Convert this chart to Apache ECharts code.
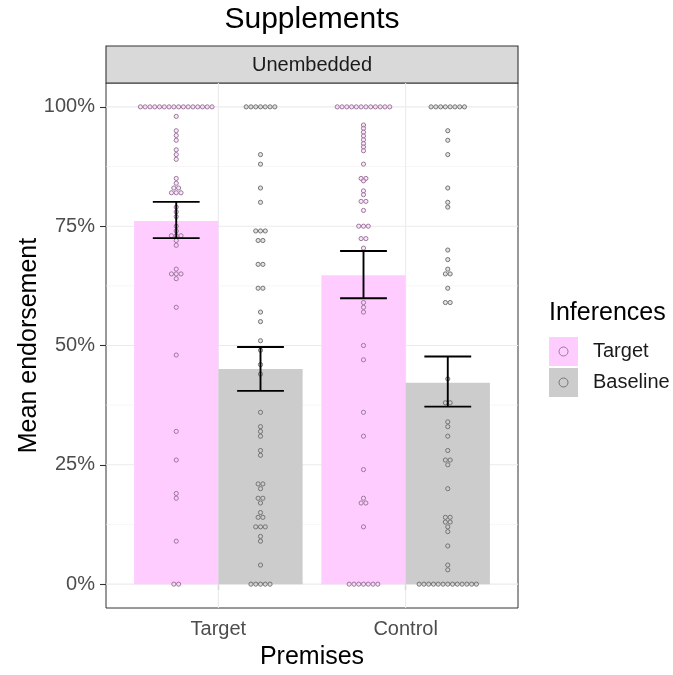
<!DOCTYPE html>
<html><head><meta charset="utf-8">
<script src="https://cdn.jsdelivr.net/npm/echarts@6/dist/echarts.min.js"></script>
<style>html,body{margin:0;padding:0;background:#fff}#c{width:673px;height:675px}</style>
</head><body><div id="c"></div>
<script>
// ---------- data (percent) ----------
const premises = ['Target', 'Control'];
const inferences = ['Target', 'Baseline'];
const yTicks = [0, 25, 50, 75, 100];
const yMinor = [12.5, 37.5, 62.5, 87.5];
const meanTarget = [76.1, 64.7];
const meanBaseline = [45.1, 42.2];
const ciLowTarget = [72.5, 59.9];
const ciHighTarget = [80.1, 69.8];
const ciLowBaseline = [40.5, 37.2];
const ciHighBaseline = [49.7, 47.7];

// individual participant endorsements
const dotsTargetTarget = [100,100,100,100,100,100,100,100,100,100,100,100,100,100,100,100,
  98, 95, 94, 93, 91, 90, 89, 85, 84, 83, 83, 82, 82, 82, 79, 78, 77, 75, 74, 73, 73, 73, 72, 71,
  66, 65, 65, 65, 64, 58, 48, 32, 26, 19, 18, 9, 0, 0];
const dotsTargetBaseline = [100,100,100,100,100,100,100,
  90, 88, 83, 80, 74, 74, 74, 72, 72, 67, 67, 62, 62, 57, 55, 51, 49, 46, 44, 36, 33, 32, 31,
  28, 27, 21, 21, 20, 18, 18, 17, 15, 14, 14, 12, 12, 12, 10, 9, 4, 0, 0, 0, 0, 0];
const dotsControlTarget = [100,100,100,100,100,100,100,100,100,100,100,100,
  96.2, 95.5, 94.7, 93.9, 93.1, 92.3, 91.6, 90.8, 88, 85, 85, 84.5, 82.4, 81.6, 80.2, 80.2, 78.3,
  75, 75, 75, 72.4, 72.4, 70.4, 59, 58, 57, 50, 47, 36, 31, 24, 18, 17, 17, 12, 0, 0, 0, 0, 0, 0, 0];
const dotsControlBaseline = [100,100,100,100,100,100,100,100,
  95, 93, 90, 83, 80, 79, 70, 68, 66, 65, 65, 62, 59, 59, 43, 38, 38, 34, 33, 31, 28, 26, 26, 25,
  20, 14, 14, 13, 13, 12, 11, 8, 4, 3, 0,0,0,0,0,0,0,0,0,0,0,0,0];

// ---------- style ----------
const PINK = '#ffccff', GREY = '#cccccc';
const PINK_DOT = '#9a7a9a', GREY_DOT = '#747474';
const DODGE = 0.225, BAR_W = 0.45, ERR_W = 0.25, BINW = 1;
const FONT = 'Liberation Sans, Arial, Helvetica, sans-serif';

function stackDots(values, x) {
  const counts = new Map();
  values.forEach(v => counts.set(v, (counts.get(v) || 0) + 1));
  const out = [];
  counts.forEach((n, v) => { for (let k = 0; k < n; k++) out.push([x, v, k, n]); });
  return out;
}

function barSeries(name, means, off, color) {
  return {
    name, type: 'custom', z: 2, clip: true,
    itemStyle: { color },
    data: means.map((m, i) => [i + 1 + off, m]),
    encode: { x: 0, y: 1 },
    renderItem(params, api) {
      const top = api.coord([api.value(0), api.value(1)]);
      const base = api.coord([api.value(0), 0]);
      const w = api.size([BAR_W, 0])[0];
      return { type: 'rect', shape: { x: top[0] - w / 2, y: top[1], width: w, height: base[1] - top[1] },
        style: { fill: color } };
    }
  };
}
function dotSeries(name, data, fill, stroke) {
  return {
    name, type: 'custom', z: 3, data, encode: { x: 0, y: 1 },
    renderItem(params, api) {
      const c = api.coord([api.value(0), api.value(1)]);
      const d = api.size([0, BINW])[1];
      const k = api.value(2), n = api.value(3);
      const cx = c[0] + (k - (n - 1) / 2) * d;
      return { type: 'circle', shape: { cx, cy: c[1], r: d / 2 - 0.3 },
        style: { fill, stroke, lineWidth: 1 } };
    }
  };
}
function errSeries(name, lo, hi, off) {
  return {
    name, type: 'custom', z: 4,
    data: lo.map((l, i) => [i + 1 + off, l, hi[i]]),
    encode: { x: 0, y: [1, 2] },
    renderItem(params, api) {
      const x = api.value(0);
      const pl = api.coord([x, api.value(1)]);
      const ph = api.coord([x, api.value(2)]);
      const hw = api.size([ERR_W, 0])[0] / 2;
      const st = { stroke: '#000', lineWidth: 1.9 };
      return { type: 'group', children: [
        { type: 'line', shape: { x1: pl[0], y1: pl[1], x2: ph[0], y2: ph[1] }, style: st },
        { type: 'line', shape: { x1: pl[0] - hw, y1: pl[1], x2: pl[0] + hw, y2: pl[1] }, style: st },
        { type: 'line', shape: { x1: ph[0] - hw, y1: ph[1], x2: ph[0] + hw, y2: ph[1] }, style: st }
      ] };
    }
  };
}
const gridData = [
  ...yTicks.map(v => ['h', v, 1.1, '#ebebeb']),
  ...yMinor.map(v => ['h', v, 0.6, '#f2f2f2']),
  ...premises.map((p, i) => ['v', i + 1, 1.1, '#ebebeb'])
];
const gridSeries = {
  name: 'grid', type: 'custom', z: 1, silent: true,
  data: gridData.map((g, i) => [i]),
  renderItem(params, api) {
    const g = gridData[api.value(0)];
    let a, b;
    if (g[0] === 'h') { a = api.coord([0.4, g[1]]); b = api.coord([2.6, g[1]]); }
    else { a = api.coord([g[1], -5]); b = api.coord([g[1], 105]); }
    return { type: 'line', shape: { x1: a[0], y1: a[1], x2: b[0], y2: b[1] },
      style: { stroke: g[3], lineWidth: g[2] } };
  }
};

const chart = echarts.init(document.getElementById('c'), null, { renderer: 'canvas' });
chart.setOption({
  animation: false,
  textStyle: { fontFamily: FONT },
  grid: { left: 106, right: 155, top: 83, bottom: 58, show: true, borderColor: '#333', borderWidth: 1, backgroundColor: '#fff' },
  xAxis: {
    type: 'value', min: 0.4, max: 2.6,
    name: 'Premises', nameLocation: 'middle', nameGap: 37, nameMoveOverlap: false,
    nameTextStyle: { fontSize: 25, color: '#000', fontFamily: FONT },
    axisLine: { show: false },
    axisTick: { show: true, length: 6, customValues: [1, 2], lineStyle: { color: '#333', width: 1.1 } },
    axisLabel: { customValues: [1, 2], formatter: v => premises[Math.round(v) - 1], fontSize: 20, color: '#4d4d4d', margin: 11 },
    splitLine: { show: false }
  },
  yAxis: {
    type: 'value', min: -5, max: 105,
    name: 'Mean endorsement', nameLocation: 'middle', nameGap: 64, nameMoveOverlap: false,
    nameTextStyle: { fontSize: 25, color: '#000', fontFamily: FONT },
    axisLine: { show: false },
    axisTick: { show: true, length: 6, customValues: yTicks, lineStyle: { color: '#333', width: 1.1 } },
    axisLabel: { customValues: yTicks, formatter: v => v + '%', fontSize: 20, color: '#4d4d4d', margin: 11 },
    splitLine: { show: false }
  },
  legend: {
    orient: 'vertical', left: 544, top: 332, itemWidth: 29, itemHeight: 29, itemGap: 2,
    data: [{ name: 'Target', icon: 'rect' }, { name: 'Baseline', icon: 'rect' }],
    textStyle: { fontSize: 20, color: '#1a1a1a', fontFamily: FONT, padding: [0, 0, 0, 10] },
    selectedMode: false
  },
  graphic: [
    { type: 'text', x: 312, y: 20, style: { text: 'Supplements', fontSize: 30, fill: '#000', align: 'center', verticalAlign: 'middle', fontFamily: FONT } },
    { type: 'rect', shape: { x: 106, y: 46, width: 412, height: 37 }, style: { fill: '#d9d9d9', stroke: '#333', lineWidth: 1.1 } },
    { type: 'text', x: 312, y: 65, style: { text: 'Unembedded', fontSize: 20, fill: '#1a1a1a', align: 'center', verticalAlign: 'middle', fontFamily: FONT } },
    { type: 'text', x: 549, y: 313, style: { text: 'Inferences', fontSize: 25, fill: '#000', align: 'left', verticalAlign: 'middle', fontFamily: FONT } },
    { type: 'circle', shape: { cx: 563.5, cy: 351.5, r: 4.5 }, style: { fill: 'rgba(255,204,255,0.6)', stroke: PINK_DOT, lineWidth: 1 }, z: 100 },
    { type: 'circle', shape: { cx: 563.5, cy: 382.5, r: 4.5 }, style: { fill: 'rgba(204,204,204,0.6)', stroke: GREY_DOT, lineWidth: 1 }, z: 100 }
  ],
  series: [
    gridSeries,
    barSeries('Target', meanTarget, -DODGE, PINK),
    barSeries('Baseline', meanBaseline, DODGE, GREY),
    dotSeries('Target dots', [...stackDots(dotsTargetTarget, 1 - DODGE), ...stackDots(dotsControlTarget, 2 - DODGE)], 'rgba(255,204,255,0.55)', PINK_DOT),
    dotSeries('Baseline dots', [...stackDots(dotsTargetBaseline, 1 + DODGE), ...stackDots(dotsControlBaseline, 2 + DODGE)], 'rgba(204,204,204,0.55)', GREY_DOT),
    errSeries('Target CI', ciLowTarget, ciHighTarget, -DODGE),
    errSeries('Baseline CI', ciLowBaseline, ciHighBaseline, DODGE)
  ]
});
</script></body></html>
